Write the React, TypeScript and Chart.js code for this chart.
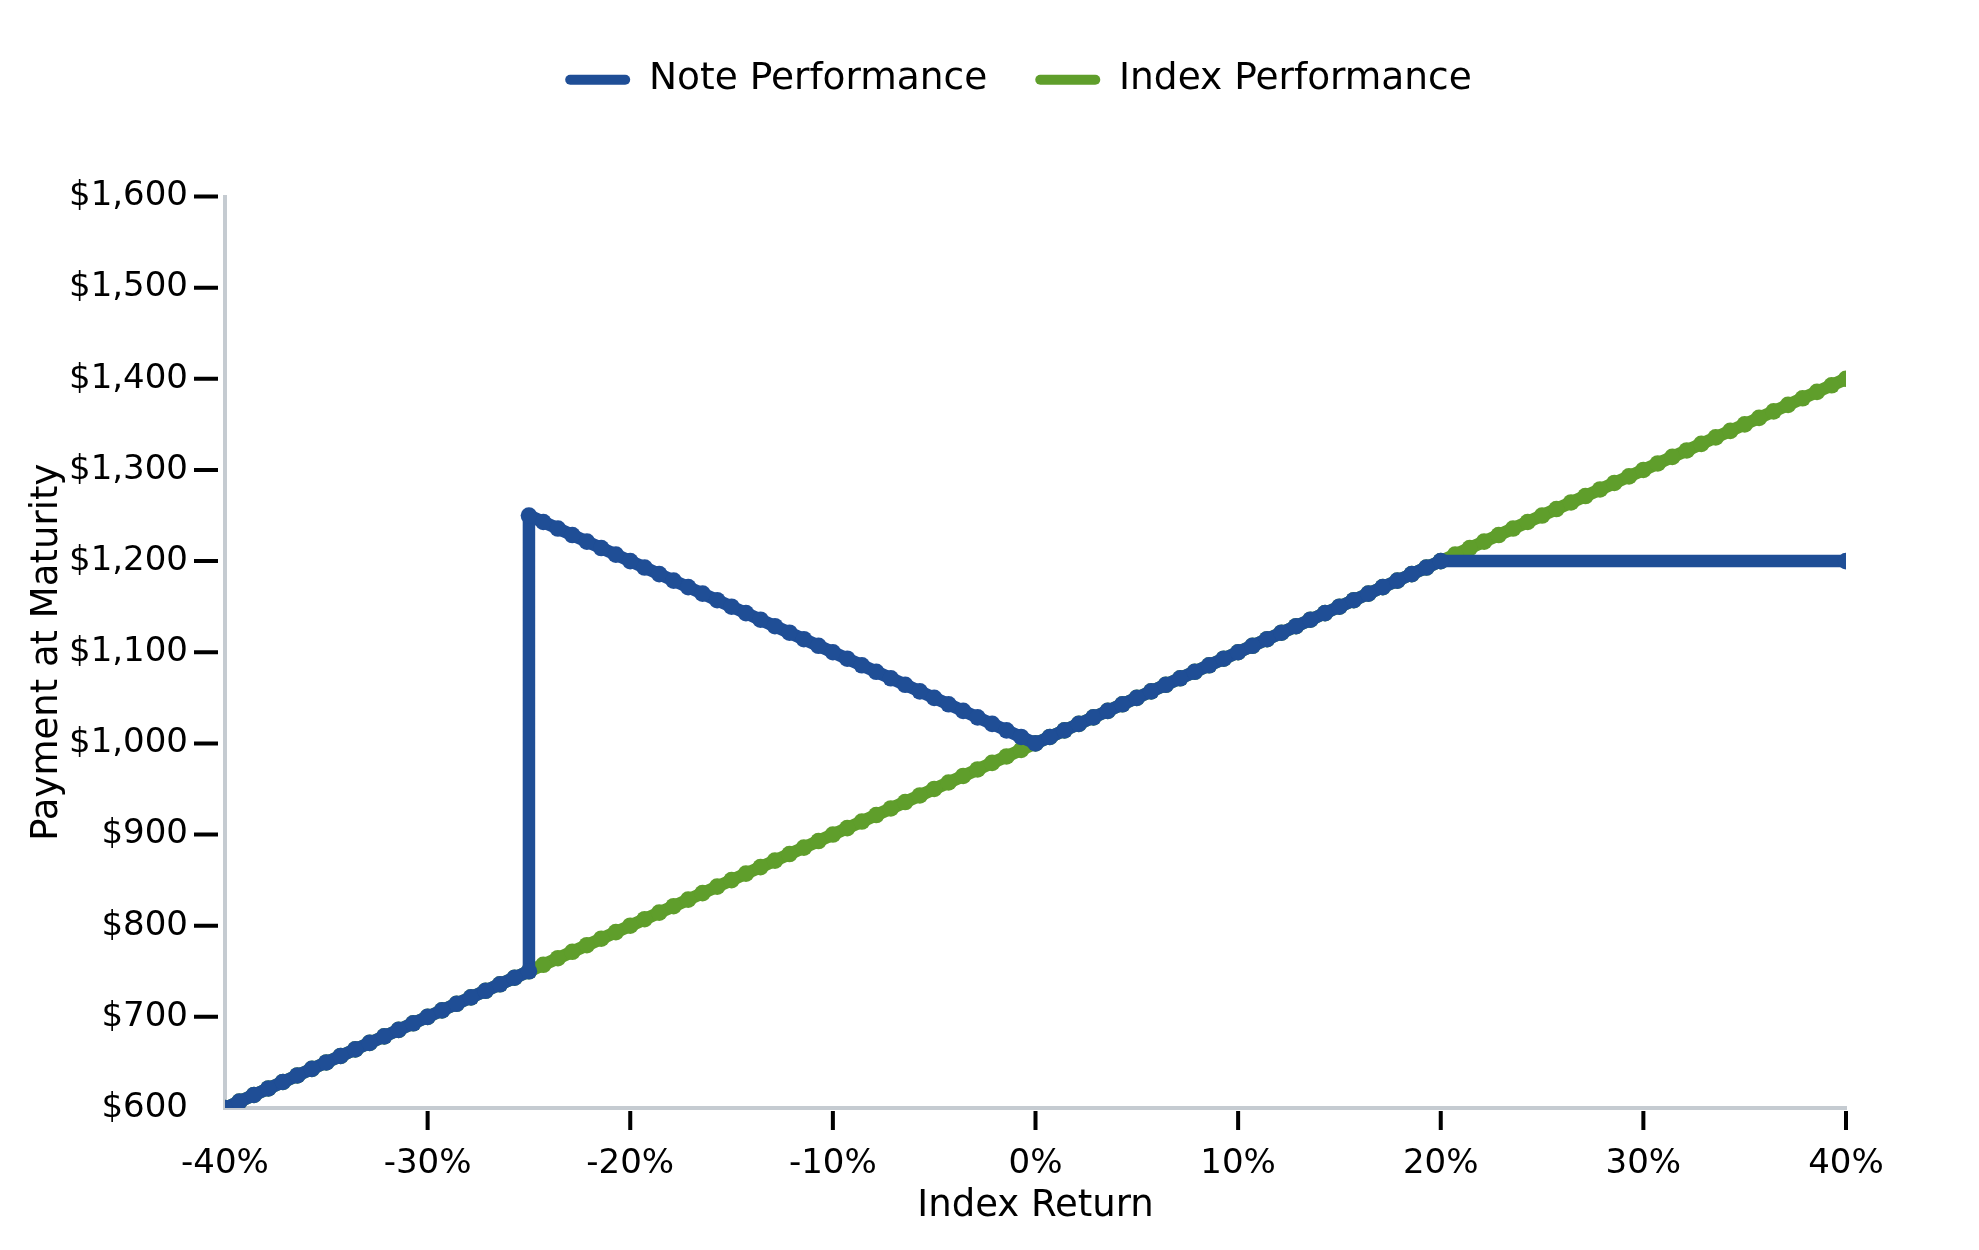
import { useEffect, useRef } from 'react';
import { Chart, registerables } from 'chart.js';

Chart.register(...registerables);

// index return in %, 113 evenly spaced points from -40% to 40%
const indexReturns = [
  -40, -39.29, -38.57, -37.86, -37.14, -36.43, -35.71, -35, -34.29, -33.57, -32.86, -32.14, -31.43, -30.71,
  -30, -29.29, -28.57, -27.86, -27.14, -26.43, -25.71, -25, -24.29, -23.57, -22.86, -22.14, -21.43, -20.71,
  -20, -19.29, -18.57, -17.86, -17.14, -16.43, -15.71, -15, -14.29, -13.57, -12.86, -12.14, -11.43, -10.71,
  -10, -9.29, -8.57, -7.86, -7.14, -6.43, -5.71, -5, -4.29, -3.57, -2.86, -2.14, -1.43, -0.71,
  0, 0.71, 1.43, 2.14, 2.86, 3.57, 4.29, 5, 5.71, 6.43, 7.14, 7.86, 8.57, 9.29,
  10, 10.71, 11.43, 12.14, 12.86, 13.57, 14.29, 15, 15.71, 16.43, 17.14, 17.86, 18.57, 19.29,
  20, 20.71, 21.43, 22.14, 22.86, 23.57, 24.29, 25, 25.71, 26.43, 27.14, 27.86, 28.57, 29.29,
  30, 30.71, 31.43, 32.14, 32.86, 33.57, 34.29, 35, 35.71, 36.43, 37.14, 37.86, 38.57, 39.29,
  40,
];

const indexValues = [
  600, 607.1, 614.3, 621.4, 628.6, 635.7, 642.9, 650, 657.1, 664.3, 671.4, 678.6, 685.7, 692.9,
  700, 707.1, 714.3, 721.4, 728.6, 735.7, 742.9, 750, 757.1, 764.3, 771.4, 778.6, 785.7, 792.9,
  800, 807.1, 814.3, 821.4, 828.6, 835.7, 842.9, 850, 857.1, 864.3, 871.4, 878.6, 885.7, 892.9,
  900, 907.1, 914.3, 921.4, 928.6, 935.7, 942.9, 950, 957.1, 964.3, 971.4, 978.6, 985.7, 992.9,
  1000, 1007.1, 1014.3, 1021.4, 1028.6, 1035.7, 1042.9, 1050, 1057.1, 1064.3, 1071.4, 1078.6, 1085.7, 1092.9,
  1100, 1107.1, 1114.3, 1121.4, 1128.6, 1135.7, 1142.9, 1150, 1157.1, 1164.3, 1171.4, 1178.6, 1185.7, 1192.9,
  1200, 1207.1, 1214.3, 1221.4, 1228.6, 1235.7, 1242.9, 1250, 1257.1, 1264.3, 1271.4, 1278.6, 1285.7, 1292.9,
  1300, 1307.1, 1314.3, 1321.4, 1328.6, 1335.7, 1342.9, 1350, 1357.1, 1364.3, 1371.4, 1378.6, 1385.7, 1392.9,
  1400,
];

// note payoff: the jump at -25%, absolute return down to 0%, 1:1 up to the 20% cap
const noteReturns = [
  -40, -39.29, -38.57, -37.86, -37.14, -36.43, -35.71, -35, -34.29, -33.57, -32.86, -32.14, -31.43, -30.71,
  -30, -29.29, -28.57, -27.86, -27.14, -26.43, -25.71, -25,
  -25, -24.29, -23.57, -22.86, -22.14, -21.43, -20.71,
  -20, -19.29, -18.57, -17.86, -17.14, -16.43, -15.71, -15, -14.29, -13.57, -12.86, -12.14, -11.43, -10.71,
  -10, -9.29, -8.57, -7.86, -7.14, -6.43, -5.71, -5, -4.29, -3.57, -2.86, -2.14, -1.43, -0.71,
  0, 0.71, 1.43, 2.14, 2.86, 3.57, 4.29, 5, 5.71, 6.43, 7.14, 7.86, 8.57, 9.29,
  10, 10.71, 11.43, 12.14, 12.86, 13.57, 14.29, 15, 15.71, 16.43, 17.14, 17.86, 18.57, 19.29,
  20,
  40,
];

const noteValues = [
  600, 607.1, 614.3, 621.4, 628.6, 635.7, 642.9, 650, 657.1, 664.3, 671.4, 678.6, 685.7, 692.9,
  700, 707.1, 714.3, 721.4, 728.6, 735.7, 742.9, 750,
  1250, 1242.9, 1235.7, 1228.6, 1221.4, 1214.3, 1207.1,
  1200, 1192.9, 1185.7, 1178.6, 1171.4, 1164.3, 1157.1, 1150, 1142.9, 1135.7, 1128.6, 1121.4, 1114.3, 1107.1,
  1100, 1092.9, 1085.7, 1078.6, 1071.4, 1064.3, 1057.1, 1050, 1042.9, 1035.7, 1028.6, 1021.4, 1014.3, 1007.1,
  1000, 1007.1, 1014.3, 1021.4, 1028.6, 1035.7, 1042.9, 1050, 1057.1, 1064.3, 1071.4, 1078.6, 1085.7, 1092.9,
  1100, 1107.1, 1114.3, 1121.4, 1128.6, 1135.7, 1142.9, 1150, 1157.1, 1164.3, 1171.4, 1178.6, 1185.7, 1192.9,
  1200,
  1200,
];

const noteColor = '#1f4e96';
const indexColor = '#5f9e2b';
const axisGray = '#c5cbd1';
const fontFamily = '"DejaVu Sans", sans-serif';

// extra room under the legend, and nudge it a bit to the left
const legendSpacer = {
  id: 'legendSpacer',
  beforeInit(chart: any) {
    const originalFit = chart.legend.fit;
    chart.legend.fit = function fit() {
      originalFit.bind(chart.legend)();
      this.height += 88;
    };
  },
  afterLayout(chart: any) {
    chart.legend.left -= 17;
    chart.legend.right -= 17;
  },
};

// black tick marks that stop short of the grey axis lines, first tick skipped
const tickMarks = {
  id: 'tickMarks',
  afterDraw(chart: any) {
    const { ctx, chartArea, scales } = chart;
    ctx.save();
    ctx.strokeStyle = '#000';
    ctx.lineWidth = 4;
    ctx.beginPath();
    scales.y.ticks.forEach((_t: any, i: number) => {
      if (i === 0) return;
      const y = scales.y.getPixelForTick(i);
      ctx.moveTo(chartArea.left - 31, y);
      ctx.lineTo(chartArea.left - 7, y);
    });
    scales.x.ticks.forEach((_t: any, i: number) => {
      if (i === 0) return;
      const x = scales.x.getPixelForTick(i);
      ctx.moveTo(x, chartArea.bottom + 3);
      ctx.lineTo(x, chartArea.bottom + 22);
    });
    ctx.stroke();
    ctx.restore();
  },
};

export default function App() {
  const canvasRef = useRef<HTMLCanvasElement>(null);
  const chartRef = useRef<Chart | null>(null);

  useEffect(() => {
    document.body.style.margin = '0';
    if (!canvasRef.current) return;
    if (chartRef.current) chartRef.current.destroy();

    const ctx = canvasRef.current.getContext('2d');
    if (!ctx) return;

    chartRef.current = new Chart(ctx, {
      type: 'line',
      data: {
        datasets: [
          {
            label: 'Note Performance',
            data: noteReturns.map((r, i) => ({ x: r, y: noteValues[i] })),
            borderColor: noteColor,
            backgroundColor: noteColor,
            borderWidth: 12.5,
            pointRadius: 8.3,
            pointBorderWidth: 0,
            pointBackgroundColor: noteColor,
            borderCapStyle: 'round',
            borderJoinStyle: 'round',
            order: 0,
          },
          {
            label: 'Index Performance',
            data: indexReturns.map((r, i) => ({ x: r, y: indexValues[i] })),
            borderColor: indexColor,
            backgroundColor: indexColor,
            borderWidth: 12.5,
            pointRadius: 8.3,
            pointBorderWidth: 0,
            pointBackgroundColor: indexColor,
            borderCapStyle: 'round',
            borderJoinStyle: 'round',
            order: 1,
          },
        ],
      },
      options: {
        responsive: true,
        maintainAspectRatio: false,
        animation: false,
        layout: {
          padding: { top: 13, right: 133, bottom: 0, left: 0 },
        },
        plugins: {
          legend: {
            display: true,
            position: 'top',
            fullSize: false,
            labels: {
              font: { family: fontFamily, size: 37.5 },
              color: '#000',
              boxWidth: 65,
              boxHeight: 10,
              padding: 48,
              useBorderRadius: true,
              borderRadius: 5,
              generateLabels(chart: any) {
                const items = Chart.defaults.plugins.legend.labels.generateLabels(chart);
                return items.map((it: any) => ({ ...it, lineWidth: 0 }));
              },
            },
          },
          tooltip: { enabled: false },
        },
        scales: {
          x: {
            type: 'linear',
            min: -40,
            max: 40,
            afterFit(scale: any) {
              scale.height = 142;
            },
            border: { display: true, color: axisGray, width: 4 },
            grid: {
              drawOnChartArea: false,
              drawTicks: true,
              tickLength: 22,
              tickColor: 'rgba(0,0,0,0)',
            },
            ticks: {
              stepSize: 10,
              padding: 14,
              color: '#000',
              font: { family: fontFamily, size: 34 },
              maxRotation: 0,
              callback: (v: any) => v + '%',
            },
            title: {
              display: true,
              text: 'Index Return',
              color: '#000',
              font: { family: fontFamily, size: 37 },
              padding: { top: 0, bottom: 21 },
            },
          },
          y: {
            min: 600,
            max: 1600,
            afterFit(scale: any) {
              scale.width = 225;
            },
            border: { display: true, color: axisGray, width: 4 },
            grid: {
              drawOnChartArea: false,
              drawTicks: true,
              tickLength: 32,
              tickColor: 'rgba(0,0,0,0)',
            },
            ticks: {
              stepSize: 100,
              padding: 5,
              color: '#000',
              font: { family: fontFamily, size: 34 },
              callback: (v: any) => '$' + Number(v).toLocaleString('en-US'),
            },
            title: {
              display: true,
              text: 'Payment at Maturity',
              color: '#000',
              font: { family: fontFamily, size: 37 },
              padding: { top: 25, bottom: 0 },
            },
          },
        },
      },
      plugins: [legendSpacer, tickMarks],
    });

    return () => {
      if (chartRef.current) {
        chartRef.current.destroy();
        chartRef.current = null;
      }
    };
  }, []);

  return (
    <div style={{ position: 'relative', width: '1979px', height: '1250px', background: '#fff' }}>
      <canvas ref={canvasRef} />
    </div>
  );
}
